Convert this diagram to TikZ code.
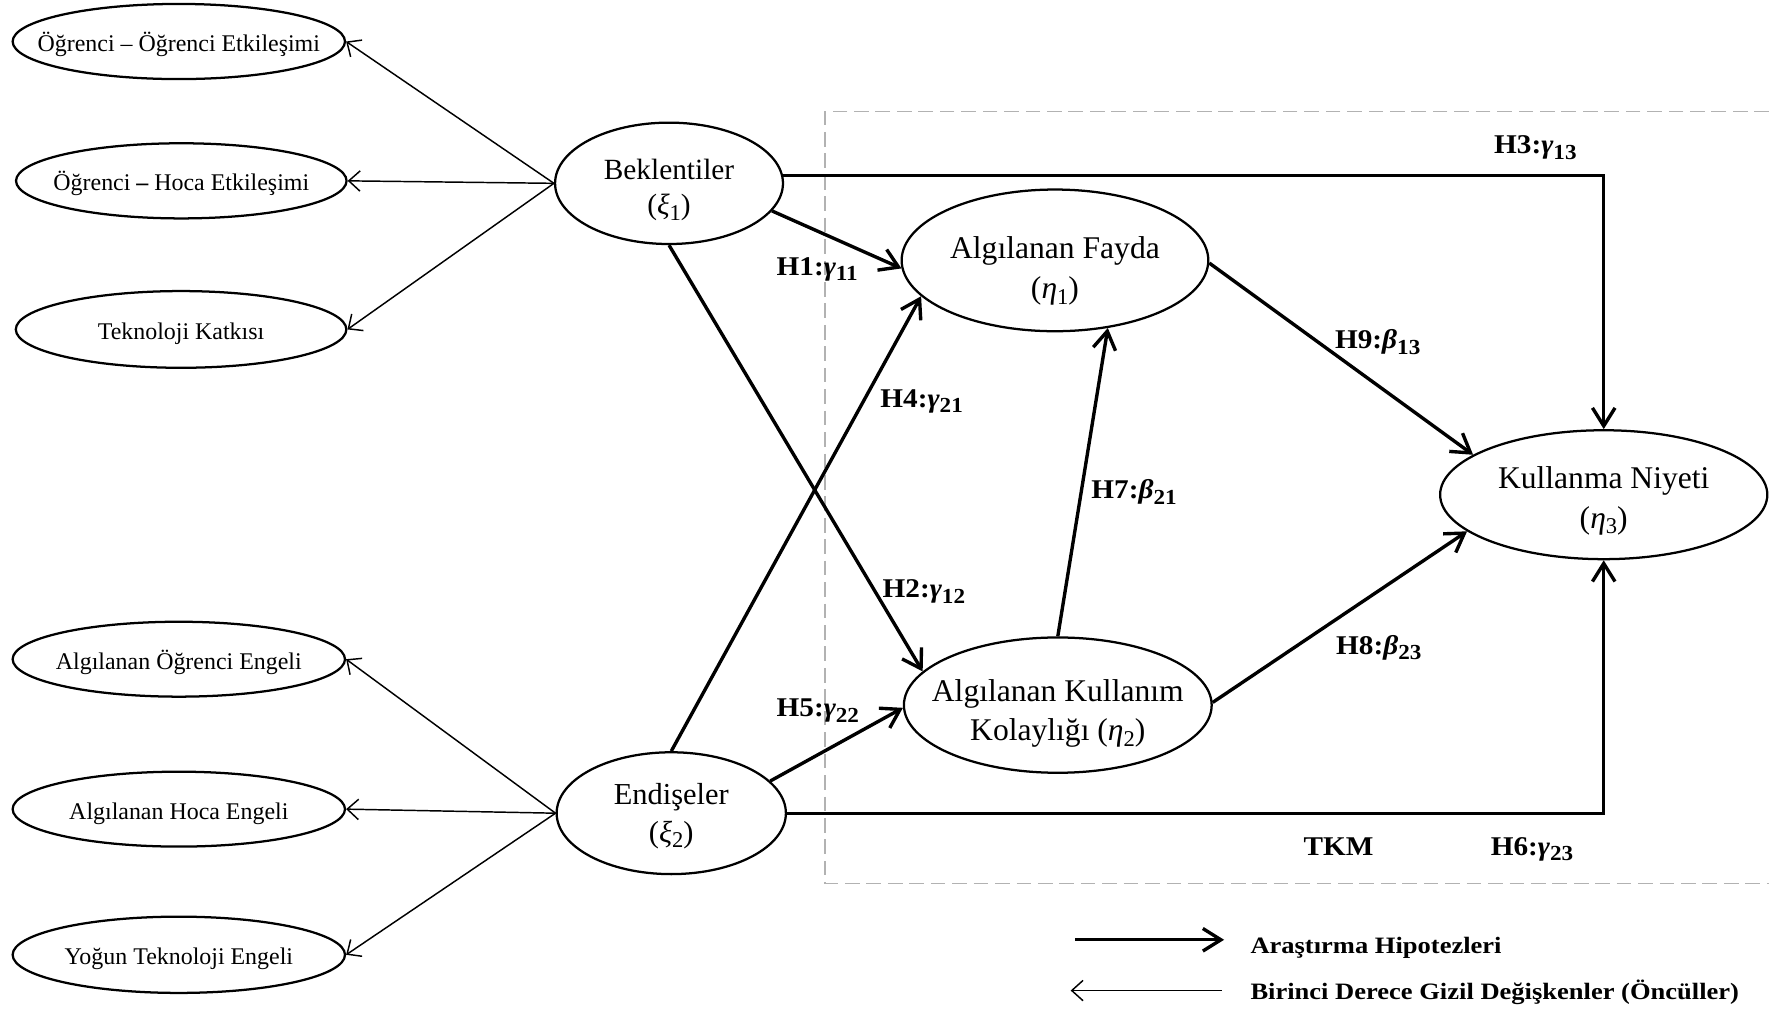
\documentclass[tikz,border=0pt]{standalone}
\usepackage{fontspec}
\setmainfont{Liberation Serif}
\newfontfamily\labfont[FakeStretch=1.08]{Liberation Serif}
\newfontfamily\legfont[FakeStretch=1.13]{Liberation Serif}
\usetikzlibrary{shapes.geometric,arrows.meta}
% lowered subscripts for the path labels and the construct symbols
\newcommand\sbs[1]{\raisebox{-2.5pt}{\fontsize{9.5}{9.5}\selectfont #1}}
\newcommand\sbm[1]{\raisebox{-2.5pt}{\fontsize{10}{10}\selectfont #1}}
% zero-width centred text so the ellipse keeps its own size;
% the optional extra height moves the text down by half of it
\newcommand\ctr[2][4pt]{\makebox[0pt]{\raisebox{0pt}[\dimexpr\height+#1\relax][\depth]{\begin{tabular}{@{}c@{}}#2\end{tabular}}}}
\tikzset{
  small/.style={ellipse, draw, line width=1pt, inner sep=0pt,
    font=\fontsize{10.6}{12}\selectfont},
  big/.style={ellipse, draw, line width=1pt, inner sep=0pt,
    font=\fontsize{14}{17.7}\selectfont},
  hyp/.style={line width=1.5pt, -{Straight Barb[length=8pt,width=10pt]}},
  ante/.style={line width=0.65pt, -{Straight Barb[length=5pt,width=9pt]}},
  hlab/.style={anchor=base west, inner sep=0pt,
    font=\labfont\bfseries\fontsize{12}{14}\selectfont},
  legtext/.style={anchor=base west, inner sep=0pt,
    font=\legfont\bfseries\fontsize{10.4}{12}\selectfont},
  frame/.style={draw=gray!60, line width=0.7pt, dash pattern=on 6.5pt off 3pt}
}
\begin{document}
\begin{tikzpicture}[x=0.5pt,y=-0.5pt]
\useasboundingbox (0,0) rectangle (1568,898);

% TKM frame (open to the right)
\draw[frame] (1568,99) -- (731,99) -- (731,783) -- (1568,783);

% first-order latent variables
\node[small, minimum width=147.3pt, minimum height=33.3pt] (o1) at (158.5,36.8) {\ctr{Öğrenci – Öğrenci Etkileşimi}};
\node[small, minimum width=146.5pt, minimum height=33.3pt] (o2) at (160.7,160.3) {\ctr{Öğrenci {\bfseries –} Hoca Etkileşimi}};
\node[small, minimum width=146.5pt, minimum height=34pt] (o3) at (160.5,292) {\ctr{Teknoloji Katkısı}};
\node[small, minimum width=147.3pt, minimum height=33.2pt] (o4) at (158.5,584.3) {\ctr{Algılanan Öğrenci Engeli}};
\node[small, minimum width=147.3pt, minimum height=33.2pt] (o5) at (158.5,717.2) {\ctr{Algılanan Hoca Engeli}};
\node[small, minimum width=147.3pt, minimum height=33.8pt] (o6) at (158.5,846.3) {\ctr{Yoğun Teknoloji Engeli}};

% constructs
\node[big, minimum width=101pt, minimum height=53.8pt, font=\fontsize{13}{15.5}\selectfont] (bek) at (593,162.5)
  {\ctr[6pt]{Beklentiler\\(\textit{ξ}\sbm{1})}};
\node[big, minimum width=101.6pt, minimum height=54pt, font=\fontsize{13.5}{16.6}\selectfont] (end) at (595,720.8)
  {\ctr[2.5pt]{Endişeler\\(\textit{ξ}\sbm{2})}};
\node[big, minimum width=135.9pt, minimum height=52.9pt] (fay) at (935.1,230.8)
  {\ctr[9pt]{Algılanan Fayda\\(\textit{η}\sbm{1})}};
\node[big, minimum width=136.4pt, minimum height=54.1pt] (kol) at (937.6,625)
  {\ctr[7pt]{Algılanan Kullanım\\Kolaylığı (\textit{η}\sbm{2})}};
\node[big, minimum width=145pt, minimum height=53.5pt] (kn) at (1421.5,438.5)
  {\ctr[5pt]{Kullanma Niyeti\\(\textit{η}\sbm{3})}};

% antecedents
\foreach \t in {o1,o2,o3} \draw[ante] (bek.west) -- (\t.east);
\foreach \t in {o4,o5,o6} \draw[ante] (end.west) -- (\t.east);

% research hypotheses
\draw[hyp] (bek.4) -| (kn.north);
\draw[hyp] (end.east) -| (kn.south);
\draw[hyp] (bek.-15) -- (fay.183);
\draw[hyp] (bek.south) -- (kol.166);
\draw[hyp] (end.north) -- (fay.195);
\draw[hyp] (end.18) -- (kol.181);
\draw[hyp] (kol.north) -- (fay.-52);
\draw[hyp] (fay.-1) -- (kn.163);
\draw[hyp] (kol.1) -- (kn.195);

% path labels
\node[hlab] (h1) at (688,244) {H1:\textit{γ}\sbs{11}};
\node[hlab] (h3) at (1324,136) {H3:\textit{γ}\sbs{13}};
\node[hlab] (h4) at (780,361) {H4:\textit{γ}\sbs{21}};
\node[hlab] (h9) at (1183,309) {H9:\textit{β}\sbs{13}};
\node[hlab] (h7) at (967,442) {H7:\textit{β}\sbs{21}};
\node[hlab] (h2) at (782,530) {H2:\textit{γ}\sbs{12}};
\node[hlab] (h8) at (1184,580) {H8:\textit{β}\sbs{23}};
\node[hlab] (h5) at (688,635) {H5:\textit{γ}\sbs{22}};
\node[hlab] (h6) at (1321,758) {H6:\textit{γ}\sbs{23}};
\node[hlab] (tkm) at (1155,758) {TKM};

% legend
\coordinate (la) at (953,833);
\coordinate (lb) at (1085,833);
\coordinate (lc) at (1083,878);
\coordinate (ld) at (949,878);
\draw[hyp] (la) -- (lb);
\draw[ante] (lc) -- (ld);
\node[legtext] (lt1) at (1108,845) {Araştırma Hipotezleri};
\node[legtext] (lt2) at (1108,886) {Birinci Derece Gizil Değişkenler (Öncüller)};
\end{tikzpicture}
\end{document}
